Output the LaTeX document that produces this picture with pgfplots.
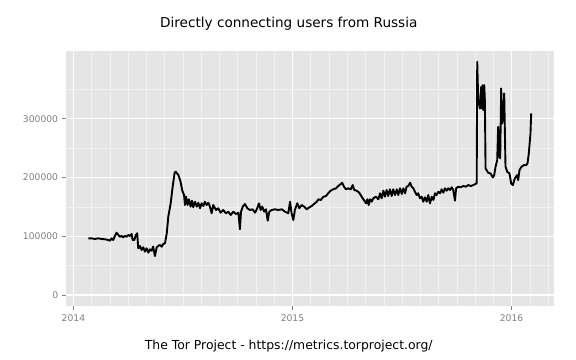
\documentclass[border=0pt]{standalone}
\usepackage{pgfplots}
\pgfplotsset{compat=1.18}
\usepackage{fontspec}
\setmainfont{DejaVu Sans}
\definecolor{panelbg}{HTML}{E5E5E5}
\definecolor{minorgrid}{HTML}{F2F2F2}
\definecolor{axtext}{HTML}{7F7F7F}
\begin{document}
\begin{tikzpicture}
\path[use as bounding box] (0,0) rectangle (576bp,360bp);
\begin{axis}[
 at={(66bp,54bp)}, anchor=south west,
 scale only axis, width=488bp, height=255bp,
 xmin=2013.966, xmax=2016.194, ymin=-18700, ymax=415100,
 axis background/.style={fill=panelbg},
 axis line style={draw=none},
 xtick={2014,2015,2016}, xticklabels={2014,2015,2016},
 ytick={0,100000,200000,300000}, yticklabels={0,100000,200000,300000},
 minor xtick={2014.0833,2014.1667,2014.25,2014.3333,2014.4167,2014.5,2014.5833,2014.6667,2014.75,2014.8333,2014.9167,2015.0833,2015.1667,2015.25,2015.3333,2015.4167,2015.5,2015.5833,2015.6667,2015.75,2015.8333,2015.9167,2016.0833,2016.1667},
 minor ytick={50000,150000,250000,350000},
 grid=both,
 major grid style={white, line width=1.1bp},
 minor grid style={minorgrid, line width=0.5bp},
 tick align=outside, xtick pos=bottom, ytick pos=left,
 major tick length=4bp, minor tick length=0pt,
 tick style={axtext, line width=0.5bp},
 ticklabel style={font=\fontsize{9.2bp}{11bp}\selectfont, text=axtext, inner sep=0pt},
 yticklabel style={xshift=-3.7bp},
 xticklabel style={yshift=-4bp},
 scaled ticks=false,
]
\addplot[black, line width=1.9bp, line join=round] table[x=x, y=y] {
x y
2014.068 96400
2014.083 96400
2014.098 95300
2014.113 96400
2014.129 95300
2014.144 94800
2014.159 93600
2014.167 92400
2014.174 96400
2014.182 93600
2014.189 100400
2014.197 106000
2014.205 102100
2014.212 99200
2014.220 100400
2014.227 98200
2014.235 100400
2014.243 99200
2014.250 102100
2014.258 100400
2014.266 103800
2014.270 93600
2014.278 93600
2014.285 102100
2014.291 105000
2014.296 79400
2014.304 83400
2014.311 76600
2014.319 81100
2014.326 73700
2014.334 79400
2014.342 72000
2014.349 77700
2014.357 75400
2014.364 82200
2014.372 66300
2014.380 81100
2014.387 83400
2014.395 85100
2014.403 82200
2014.410 86800
2014.418 88000
2014.426 105000
2014.433 133200
2014.444 156000
2014.453 184300
2014.462 208100
2014.467 209800
2014.479 204100
2014.489 192800
2014.497 177500
2014.505 170100
2014.509 153100
2014.514 167200
2014.521 153100
2014.527 162800
2014.535 150300
2014.541 160400
2014.547 149200
2014.555 158700
2014.563 150300
2014.570 157000
2014.578 147500
2014.585 156000
2014.593 151400
2014.600 158700
2014.608 153100
2014.616 157000
2014.623 150300
2014.631 139000
2014.638 153100
2014.651 144600
2014.661 147500
2014.672 140000
2014.684 144600
2014.696 139000
2014.707 141700
2014.718 136100
2014.730 141700
2014.742 137800
2014.753 140000
2014.760 111800
2014.765 141700
2014.773 150300
2014.783 154800
2014.794 147500
2014.806 144600
2014.818 145800
2014.829 140000
2014.839 147500
2014.847 156000
2014.855 144600
2014.862 150300
2014.871 141700
2014.879 145800
2014.887 126400
2014.894 141700
2014.905 144600
2014.920 145800
2014.935 144600
2014.951 145800
2014.966 141700
2014.981 139000
2014.989 158700
2014.996 139000
2015.004 127600
2015.011 144600
2015.022 156000
2015.031 147500
2015.042 153100
2015.053 150300
2015.065 145800
2015.077 149200
2015.088 151400
2015.098 154800
2015.111 158700
2015.118 162800
2015.129 161600
2015.141 167200
2015.153 168400
2015.163 173000
2015.174 177500
2015.186 179800
2015.199 181500
2015.209 185400
2015.220 188800
2015.227 191000
2015.235 184300
2015.244 179800
2015.255 181500
2015.266 179800
2015.275 187100
2015.282 178600
2015.293 177500
2015.305 174000
2015.316 167200
2015.326 161600
2015.336 156000
2015.342 162800
2015.348 153100
2015.354 162800
2015.362 158700
2015.369 164500
2015.381 167200
2015.392 162800
2015.400 173000
2015.407 164500
2015.415 177500
2015.422 167200
2015.430 178600
2015.437 168400
2015.445 179800
2015.453 168400
2015.460 179800
2015.468 170100
2015.476 179800
2015.483 170100
2015.491 181500
2015.499 171800
2015.506 181500
2015.514 173000
2015.521 184300
2015.529 185400
2015.537 191000
2015.544 184300
2015.552 181500
2015.559 175700
2015.567 170100
2015.574 173000
2015.582 164500
2015.590 167200
2015.597 158700
2015.605 166200
2015.613 158700
2015.620 170100
2015.628 156000
2015.636 167200
2015.643 161600
2015.651 173000
2015.658 170100
2015.666 175700
2015.674 173000
2015.681 179800
2015.689 174000
2015.696 181500
2015.704 177500
2015.711 181500
2015.719 178600
2015.727 183200
2015.734 178600
2015.742 160400
2015.747 181500
2015.757 184300
2015.768 183200
2015.780 185400
2015.792 184300
2015.803 187100
2015.814 185400
2015.826 187100
2015.835 188800
2015.841 190000
2015.8435 396600
2015.8480 331500
2015.8556 317300
2015.8617 354100
2015.8647 317300
2015.8678 356950
2015.8708 314450
2015.8754 356950
2015.8784 331500
2015.8815 215300
2015.8936 207950
2015.9043 206800
2015.9149 200000
2015.9210 204000
2015.9271 218150
2015.9347 229500
2015.9392 286150
2015.9422 235100
2015.9453 280450
2015.9483 232300
2015.9529 351300
2015.9574 291800
2015.9620 303100
2015.9666 342800
2015.9726 218150
2015.9802 209650
2015.9909 206800
2015.9985 189800
2016.0061 187000
2016.0152 198300
2016.0258 204000
2016.0304 195500
2016.0365 212500
2016.0456 218150
2016.0562 221000
2016.0669 221000
2016.0729 223800
2016.0790 240800
2016.0866 274800
2016.0897 308800
};
\end{axis}
\node[anchor=base, font=\fontsize{13.6bp}{16bp}\selectfont] at (288.8bp, 332.3bp) {Directly connecting users from Russia};
\node[anchor=base, font=\fontsize{12.4bp}{15bp}\selectfont] at (288.7bp, 11bp) {The Tor Project - https://metrics.torproject.org/};
\end{tikzpicture}
\end{document}
